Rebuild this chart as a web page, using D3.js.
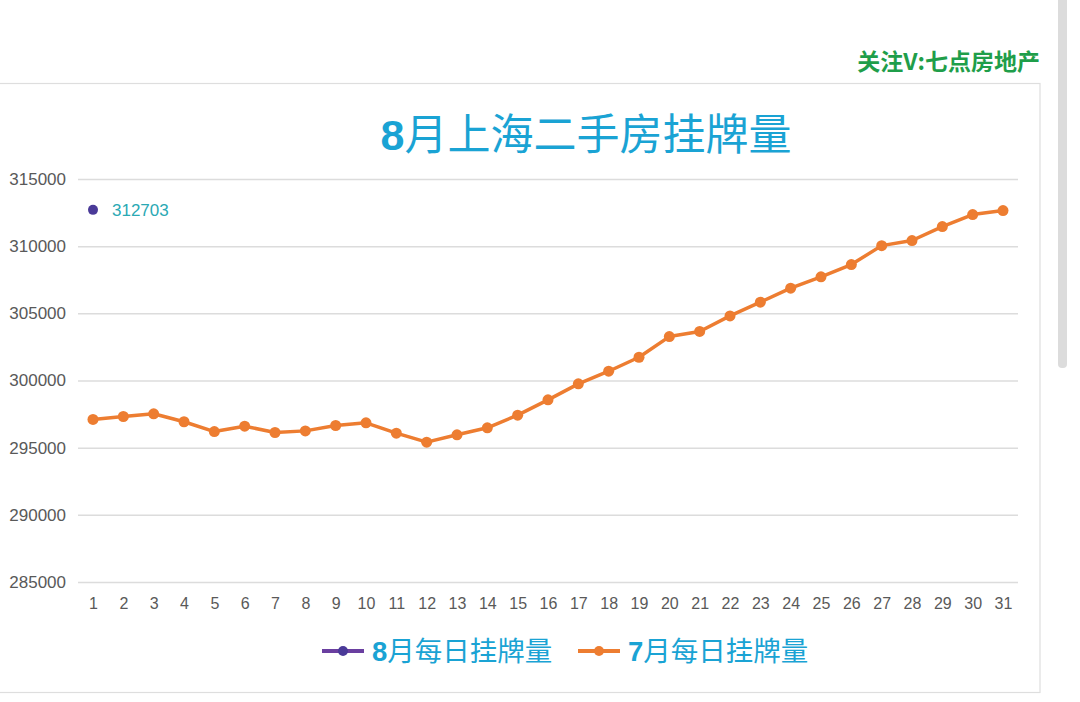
<!DOCTYPE html>
<html>
<head>
<meta charset="utf-8">
<script src="https://cdn.jsdelivr.net/npm/d3@7"></script>
<style>
  html, body { margin: 0; padding: 0; background: #fff; }
  svg { display: block; font-family: "Liberation Sans", "Noto Sans CJK SC", sans-serif; }
</style>
</head>
<body>
<script>
const days = d3.range(1, 32);
const yTicks = [285000, 290000, 295000, 300000, 305000, 310000, 315000];

// 7月每日挂牌量
const julyValues = [
  297100, 297320, 297520, 296930, 296200, 296600, 296130, 296250, 296650, 296850,
  296080, 295410, 295960, 296480, 297420, 298560, 299750, 300690, 301730, 303270,
  303650, 304810, 305830, 306870, 307720, 308630, 310040, 310420, 311460, 312350,
  312650
];
// 8月每日挂牌量 (only day 1 so far)
const augustValues = [312703];

const seriesNames = ["8月每日挂牌量", "7月每日挂牌量"];
const colors = { aug: "#4a3a98", augLine: "#6a3fa0", jul: "#ed7d31" };

const width = 1080, height = 702;

const svg = d3.select("body").append("svg")
  .attr("width", width)
  .attr("height", height)
  .attr("viewBox", [0, 0, width, height]);

// scrollbar strip on the right
svg.append("rect")
  .attr("x", 1058).attr("y", -6)
  .attr("width", 9).attr("height", 374)
  .attr("rx", 4)
  .attr("fill", "#dcdcdc");

// watermark
svg.append("text")
  .attr("x", 1040).attr("y", 70)
  .attr("text-anchor", "end")
  .attr("fill", "#1f9e4a")
  .attr("font-weight", "bold")
  .attr("font-size", 23)
  .attr("font-family", "Noto Sans CJK SC")
  .text("关注V:七点房地产");

// card
svg.append("rect")
  .attr("x", -2).attr("y", 83.5)
  .attr("width", 1042).attr("height", 609)
  .attr("fill", "#fff")
  .attr("stroke", "#dedede")
  .attr("stroke-width", 1.2);

// title
const title = svg.append("text")
  .attr("x", 586).attr("y", 150)
  .attr("text-anchor", "middle")
  .attr("fill", "#1aa3d4")
  .attr("font-size", 43)
  .attr("font-family", "Noto Sans CJK SC");
title.append("tspan").attr("font-weight", "bold").attr("font-family", "Liberation Sans").text("8");
title.append("tspan").text("月上海二手房挂牌量");

const x = d3.scalePoint()
  .domain(days)
  .range([93, 1003]);

const y = d3.scaleLinear()
  .domain([285000, 315000])
  .range([582, 179]);

// gridlines + y labels
const yAxis = d3.axisLeft(y)
  .tickValues(yTicks)
  .tickSize(-(1018 - 78))
  .tickPadding(12)
  .tickFormat(d3.format("d"));

const gy = svg.append("g")
  .attr("transform", "translate(78,0)")
  .call(yAxis);
gy.select(".domain").remove();
gy.selectAll(".tick line").attr("stroke", "#dcdcdc").attr("stroke-width", 1.5);
gy.selectAll(".tick text")
  .attr("fill", "#595959")
  .attr("font-size", 17)
  .attr("x", -12);

// x labels
const xAxis = d3.axisBottom(x).tickSize(0).tickPadding(16);
const gx = svg.append("g")
  .attr("transform", "translate(0,582)")
  .call(xAxis);
gx.select(".domain").remove();
gx.selectAll(".tick text")
  .attr("fill", "#595959")
  .attr("font-size", 16);

// July line
const line = d3.line()
  .x((d, i) => x(days[i]))
  .y(d => y(d));

svg.append("path")
  .datum(julyValues)
  .attr("fill", "none")
  .attr("stroke", colors.jul)
  .attr("stroke-width", 3.5)
  .attr("stroke-linejoin", "round")
  .attr("d", line);

svg.append("g")
  .selectAll("circle")
  .data(julyValues)
  .join("circle")
    .attr("cx", (d, i) => x(days[i]))
    .attr("cy", d => y(d))
    .attr("r", 5.5)
    .attr("fill", colors.jul);

// August point + label
svg.append("g")
  .selectAll("circle")
  .data(augustValues)
  .join("circle")
    .attr("cx", (d, i) => x(days[i]))
    .attr("cy", d => y(d))
    .attr("r", 5)
    .attr("fill", colors.aug);

svg.append("g")
  .selectAll("text")
  .data(augustValues)
  .join("text")
    .attr("x", (d, i) => x(days[i]) + 19)
    .attr("y", d => y(d))
    .attr("dy", "0.35em")
    .attr("fill", "#2aa9b4")
    .attr("font-size", 17)
    .text(d => d);

// legend
const legend = svg.append("g").attr("transform", "translate(0,651)");
const legendItems = [
  { name: seriesNames[0], x: 322, line: colors.augLine, dot: colors.aug },
  { name: seriesNames[1], x: 578, line: colors.jul, dot: colors.jul }
];
const li = legend.selectAll("g")
  .data(legendItems)
  .join("g")
    .attr("transform", d => `translate(${d.x},0)`);
li.append("line")
  .attr("x1", 0).attr("x2", 42)
  .attr("stroke", d => d.line)
  .attr("stroke-width", 4);
li.append("circle")
  .attr("cx", 21).attr("r", 5)
  .attr("fill", d => d.dot);
const lt = li.append("text")
  .attr("x", 50)
  .attr("dy", "0.36em")
  .attr("fill", "#1aa3d4")
  .attr("font-size", 27.5)
  .attr("font-family", "Noto Sans CJK SC");
lt.append("tspan").attr("font-weight", "bold").attr("font-family", "Liberation Sans").text(d => d.name[0]);
lt.append("tspan").text(d => d.name.slice(1));
</script>
</body>
</html>
